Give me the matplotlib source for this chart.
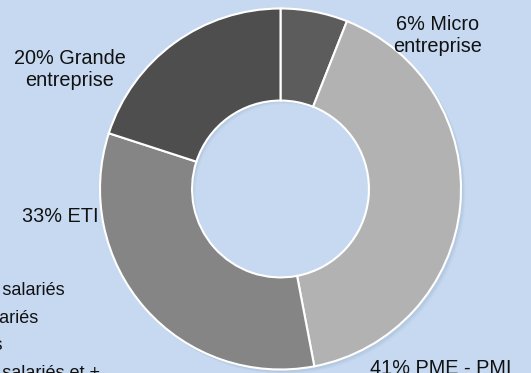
import matplotlib
matplotlib.use("Agg")
import matplotlib.pyplot as plt
from matplotlib.patches import Wedge

# ---- data ----
categories = ["Micro\nentreprise", "PME - PMI", "ETI", "Grande\nentreprise"]
percents = [6, 41, 33, 20]
colors = ["#5C5C5C", "#B2B2B2", "#858585", "#4E4E4E"]
legend_lines = ["Micro : moins de 10 salariés",
                "PME - PMI : 10 à 249 salariés",
                "ETI : 250 à 4999 salariés",
                "GE : 5000 salariés et +"]

W, H = 531, 373
BG = "#C6D9F1"
FONT = ["Liberation Sans Narrow", "Liberation Sans", "DejaVu Sans"]
FS = 14.3

fig = plt.figure(figsize=(W / 100, H / 100), dpi=100, facecolor=BG)
ax = fig.add_axes([0, 0, 1, 1])
ax.set_facecolor(BG)

def Y(y):  # convert from top-down pixel coordinate
    return H - y

cx, cy, R = 280.5, Y(189), 180.5
ring_w = R * 0.51

# soft shadow
for i, a in enumerate([0.10, 0.08, 0.06]):
    ax.add_patch(Wedge((cx + 2 + i, cy - 2 - i), R + 0.5, 0, 360, width=ring_w,
                       facecolor="#7F95B0", edgecolor="none", alpha=a, zorder=0))

wedges, _ = ax.pie(percents, colors=colors, startangle=90, counterclock=False,
                   center=(cx, cy), radius=R,
                   wedgeprops=dict(width=ring_w, edgecolor="white", linewidth=1.5, zorder=2))
ax.set_xlim(0, W)
ax.set_ylim(0, H)
ax.set_aspect("auto")
ax.axis("off")

labels = [f"{p}% {c}" for p, c in zip(percents, categories)]
label_pos = [(438, 36, "center"), (441, 374, "baseline"), (60, 222, "baseline"), (70, 70, "center")]
for txt, (x, y, va) in zip(labels, label_pos):
    ax.text(x, Y(y), txt, ha="center", va=va, fontsize=FS, family=FONT,
            color="#111111", linespacing=1.2)

legend_ends = [(65, 295), (38, 323), (2, 350), (100, 378)]
for txt, (x, y) in zip(legend_lines, legend_ends):
    ax.text(x, Y(y), txt, ha="right", va="baseline", fontsize=13, family=FONT,
            color="#111111")

fig.savefig("out.png", dpi=100, facecolor=BG)
